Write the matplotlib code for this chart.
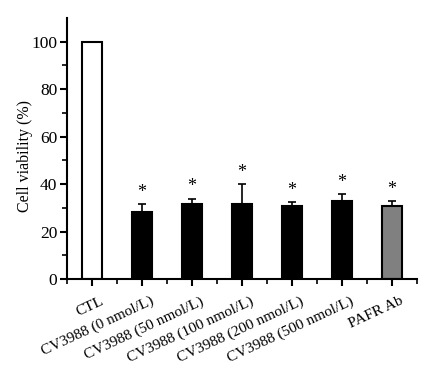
import numpy as np
import matplotlib.pyplot as plt
import matplotlib.transforms as mtransforms

plt.rcParams['font.family'] = ['Liberation Serif', 'DejaVu Serif']

# Data
groups = ['CTL', 'CV3988 (0 nmol/L)', 'CV3988 (50 nmol/L)', 'CV3988 (100 nmol/L)',
          'CV3988 (200 nmol/L)', 'CV3988 (500 nmol/L)', 'PAFR Ab']
means = [100, 28.4, 31.6, 31.6, 30.8, 33.0, 30.7]
errs = [0, 3.0, 2.3, 8.4, 1.7, 2.7, 2.1]
stars = ['', '*', '*', '*', '*', '*', '*']
colors = ['white', 'black', 'black', 'black', 'black', 'black', '#808080']

fig = plt.figure(figsize=(4.45, 3.69), dpi=100)
ax = fig.add_axes([67/445, 1 - 279/369, 350/445, (279-18)/369])

x = np.arange(len(groups))
ax.bar(x, means, width=0.4, color=colors, edgecolor='black', linewidth=1.5, zorder=2)
ax.errorbar(x[1:], means[1:], yerr=[np.zeros(len(errs) - 1), errs[1:]], fmt='none',
            ecolor='black', elinewidth=1.2, capsize=3, capthick=1.2, zorder=1)

for xi, m, e, s in zip(x, means, errs, stars):
    if s:
        ax.text(xi, m + e + 5.0, s, ha='center', va='center', fontsize=13)

ax.set_xlim(-0.5, 6.5)
ax.set_ylim(0, 110)
ax.set_yticks([0, 20, 40, 60, 80, 100])
ax.set_yticks(np.arange(10, 110, 20), minor=True)
ax.set_xticks(x)
ax.set_xticks(np.arange(-0.5, 7, 1), minor=True)
ax.tick_params(axis='y', labelsize=12.5, width=1.5, length=5, direction='out', pad=2)
ax.tick_params(axis='both', which='minor', width=1.2, length=3.5)
ax.tick_params(axis='x', width=1.5, length=5, direction='out', pad=4)
ax.set_xticklabels(groups, rotation=25, ha='right', rotation_mode='anchor', fontsize=11)
# labels sit a bit right of and below their ticks in the original
shift = mtransforms.ScaledTranslation(0.08, -0.03, fig.dpi_scale_trans)
for lab in ax.get_xticklabels():
    lab.set_transform(lab.get_transform() + shift)
ax.set_ylabel('Cell viability (%)', fontsize=11.5)
ax.yaxis.set_label_coords(-0.097, 0.47)

for side in ['top', 'right']:
    ax.spines[side].set_visible(False)
for side in ['left', 'bottom']:
    ax.spines[side].set_linewidth(1.5)

fig.savefig('out.png', dpi=100)
